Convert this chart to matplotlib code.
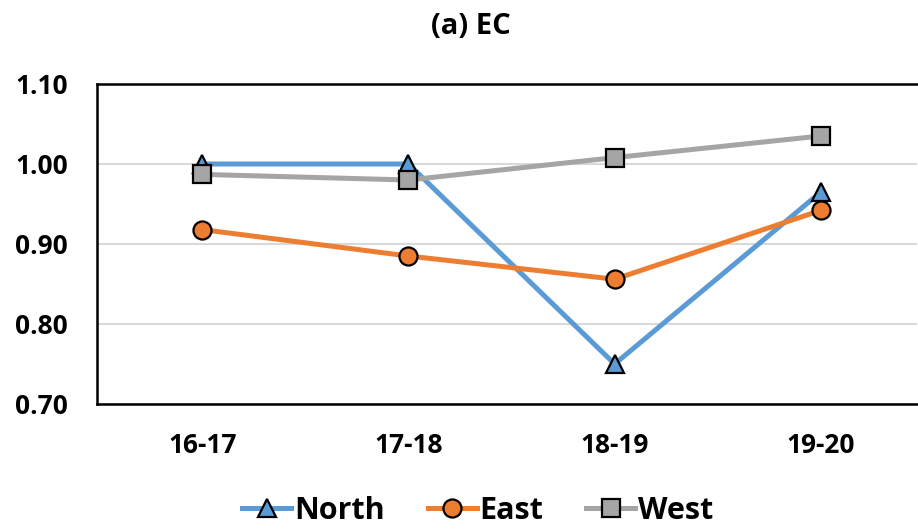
import matplotlib
matplotlib.use("Agg")
import matplotlib.pyplot as plt

plt.rcParams['font.family'] = ['Open Sans', 'DejaVu Sans']

categories = ["16-17", "17-18", "18-19", "19-20"]
north = [1.00, 1.00, 0.75, 0.965]
east = [0.918, 0.885, 0.856, 0.942]
west = [0.987, 0.980, 1.008, 1.035]
yticks = [0.70, 0.80, 0.90, 1.00, 1.10]

fig = plt.figure(figsize=(9.18, 5.30), dpi=100)
ax = fig.add_axes([97/918, 1-404/530, 820/918, 320/530])

x = list(range(len(categories)))
ax.plot(x, north, color="#5B9BD5", lw=3.6, marker="^", ms=13, mfc="#5B9BD5",
        mec="black", mew=1.6, label="North", zorder=3)
ax.plot(x, east, color="#ED7D31", lw=3.6, marker="o", ms=13, mfc="#ED7D31",
        mec="black", mew=1.6, label="East", zorder=3)
ax.plot(x, west, color="#A5A5A5", lw=3.6, marker="s", ms=13, mfc="#A5A5A5",
        mec="black", mew=1.6, label="West", zorder=3)

ax.set_xlim(-0.51, 3.466)
ax.set_ylim(0.70, 1.10)
ax.set_yticks(yticks)
ax.set_yticklabels([f"{v:.2f}" for v in yticks], fontsize=19, fontweight="bold")
ax.set_xticks(x)
ax.set_xticklabels(categories, fontsize=19, fontweight="bold")
ax.tick_params(length=0)
ax.tick_params(axis='x', pad=20)
ax.tick_params(axis='y', pad=21)
ax.grid(axis='y', color="#D9D9D9", lw=1.5, zorder=0)
for s in ax.spines.values():
    s.set_color("black")
    s.set_linewidth(1.8)
ax.spines['right'].set_visible(False)

fig.text(471/918, 1-27/530, "(a) EC", ha="center", va="center",
         fontsize=21, fontweight="bold")

leg = fig.legend(loc="center", bbox_to_anchor=(478/918, 1-511/530), ncol=3,
                 frameon=False, prop={"size": 22, "weight": "bold"},
                 handlelength=1.6, columnspacing=1.4, handletextpad=0.1)

fig.savefig("out.png", dpi=100)
